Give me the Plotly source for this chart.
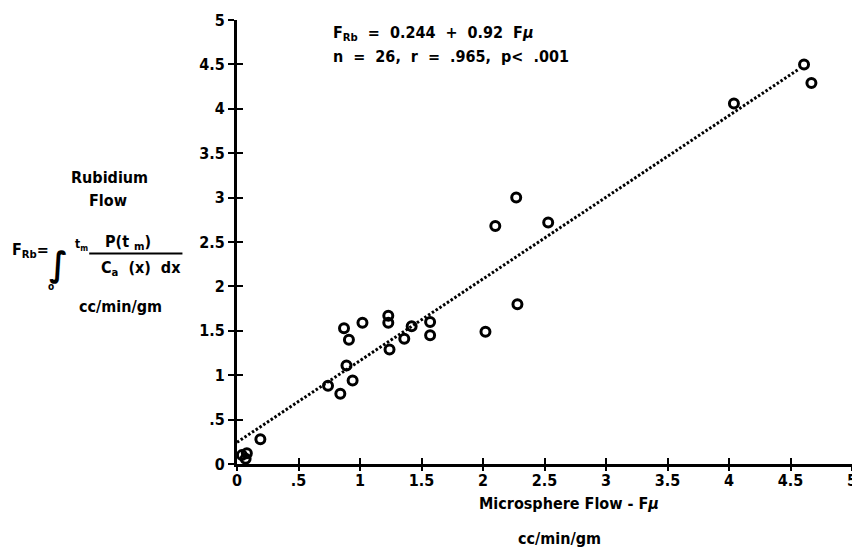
import plotly.graph_objects as go

# ---- data ----
micro_flow = [0.04, 0.07, 0.08, 0.19,
              0.74, 0.84, 0.94, 0.89, 0.91, 0.87, 1.02,
              1.23, 1.23, 1.24, 1.36, 1.42, 1.57, 1.57,
              2.02, 2.28, 2.10, 2.27, 2.53,
              4.04, 4.61, 4.67]
rb_flow = [0.10, 0.06, 0.12, 0.28,
           0.88, 0.79, 0.94, 1.11, 1.40, 1.53, 1.59,
           1.67, 1.59, 1.29, 1.41, 1.55, 1.60, 1.45,
           1.49, 1.80, 2.68, 3.00, 2.72,
           4.06, 4.50, 4.29]
fit_intercept = 0.244
fit_slope = 0.92
fit_x = [0.0, 4.56]
fit_y = [fit_intercept + fit_slope * v for v in fit_x]

tick_vals = [0, 0.5, 1, 1.5, 2, 2.5, 3, 3.5, 4, 4.5, 5]
tick_text = ["0", ".5", "1", "1.5", "2", "2.5", "3", "3.5", "4", "4.5", "5"]

# ---- layout geometry (page has an 8px body margin) ----
OFF = 8
W, H = 860 - OFF, 550 - OFF
PLOT_L, PLOT_R, PLOT_T, PLOT_B = 237, 857, 19, 464   # page pixels
L = PLOT_L - OFF
T = PLOT_T - OFF
R = W - (PLOT_R - OFF)
B = H - (PLOT_B - OFF)
PW, PH = W - L - R, H - T - B


def px(x):
    return (x - OFF - L) / PW


def py(y):
    return (H - B - (y - OFF)) / PH


FONT = "DejaVu Sans Condensed, Liberation Sans Narrow, Arial Narrow, sans-serif"
FS = 16

fig = go.Figure()
fig.add_trace(go.Scatter(
    x=fit_x, y=fit_y, mode="lines",
    line=dict(color="black", width=3, dash="2.5px,2px"),
    hoverinfo="skip", showlegend=False, cliponaxis=False))
fig.add_trace(go.Scatter(
    x=micro_flow, y=rb_flow, mode="markers",
    marker=dict(symbol="circle-open", size=9, color="black",
                line=dict(width=3, color="black")),
    showlegend=False, cliponaxis=False))
# helper trace so the twin (opposite-side tick) axes get drawn
fig.add_trace(go.Scatter(x=[2.5], y=[2.5], xaxis="x2", yaxis="y2", mode="markers",
                         marker=dict(opacity=0, size=1),
                         showlegend=False, hoverinfo="skip"))

tickfont = dict(family=FONT, size=FS, color="black", weight="bold")
base = dict(range=[0, 5], showgrid=False, zeroline=False, tickvals=tick_vals,
            tickwidth=2, tickcolor="black", ticklen=6)

fig.update_layout(
    width=W, height=H,
    margin=dict(l=L, r=R, t=T, b=B, pad=0),
    paper_bgcolor="white", plot_bgcolor="white",
    xaxis=dict(**base, showline=True, linecolor="black", linewidth=3,
               ticktext=tick_text, ticks="inside", tickfont=tickfont,
               ticklabeloverflow="allow"),
    yaxis=dict(**base, showline=True, linecolor="black", linewidth=3,
               ticktext=tick_text, ticks="outside", tickfont=tickfont,
               ticklabeloverflow="allow"),
    xaxis2=dict(**base, showline=False, showticklabels=False, ticks="outside",
                overlaying="x", anchor="y2"),
    yaxis2=dict(**base, showline=False, showticklabels=False, ticks="inside",
                overlaying="y", anchor="x2"),
    showlegend=False,
)


def ann(text, x, y, xanchor="center", size=FS, yanchor="middle"):
    fig.add_annotation(text=text, x=px(x), y=py(y), xref="paper", yref="paper",
                       xanchor=xanchor, yanchor=yanchor, showarrow=False,
                       font=dict(family=FONT, size=size, color="black", weight="bold"))


# equation
ann("F<sub>Rb</sub>  =  0.244  +  0.92  F<i>μ</i>", 332, 33, xanchor="left")
ann("n  =  26,  r  =  .965,  p<  .001", 332, 56, xanchor="left")

# y-axis label block
ann("Rubidium", 108, 177)
ann("Flow", 107, 200)
ann("F<sub>Rb</sub>=", 8, 250, xanchor="left")
ann("∫", 57, 264, size=34)
ann("o", 49, 286, size=10)
ann("t<sub>m</sub>", 72, 245, xanchor="left", size=12)
ann("P(t <sub>m</sub>)", 127, 242)
ann("C<sub>a</sub>  (x)  dx", 140, 268)
fig.add_shape(type="line", xref="paper", yref="paper",
              x0=px(88), x1=px(182), y0=py(253), y1=py(253),
              line=dict(color="black", width=2))
ann("cc/min/gm", 120, 306)

# x-axis title
ann("Microsphere Flow - F<i>μ</i>", 572, 504)
ann("cc/min/gm", 562, 539)

fig.write_html("out.html")
